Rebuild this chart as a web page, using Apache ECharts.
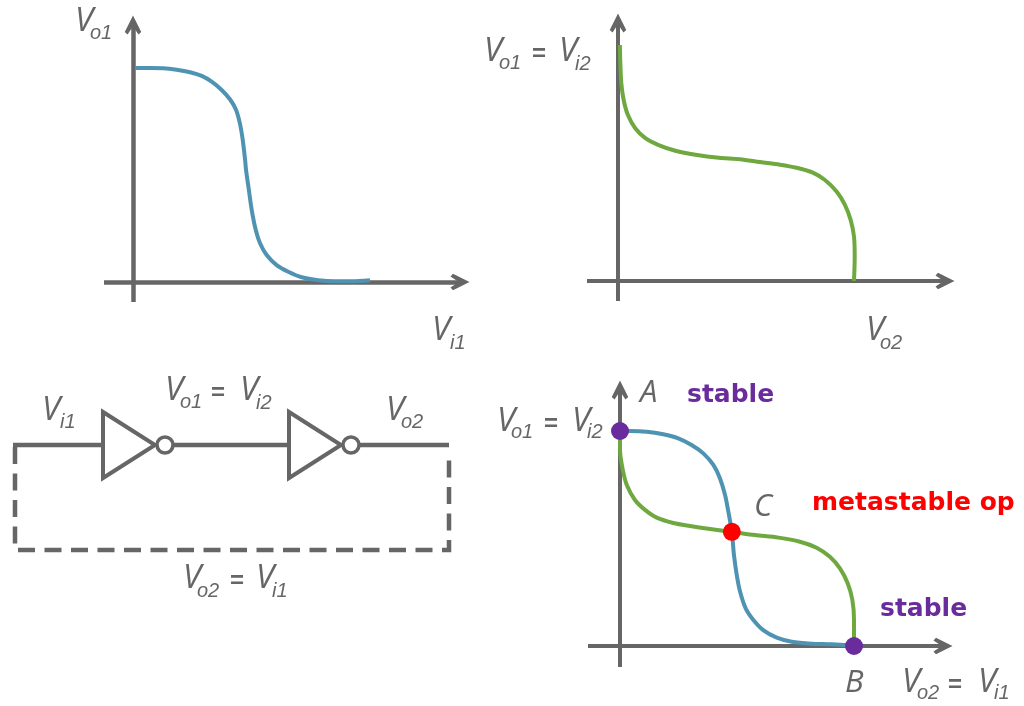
<!DOCTYPE html>
<html>
<head>
<meta charset="utf-8">
<style>html,body{margin:0;padding:0;background:#fff}#c{width:1024px;height:706px}</style>
<script src="https://cdn.jsdelivr.net/npm/echarts@6/dist/echarts.min.js"></script>
</head>
<body>
<div id="c"></div>
<script>
// Inverter 1 transfer curve (Vi1, Vo1), normalised to the supply
var inv1X = [0.008,0.072,0.128,0.184,0.241,0.290,0.332,0.374,0.409,0.435,0.451,0.463,0.473,0.477,0.487,0.501,0.518,0.536,0.564,0.606,0.655,0.712,0.782,0.852,0.923,1.0];
var inv1Y = [1.0,1.0,0.999,0.992,0.980,0.963,0.936,0.897,0.854,0.804,0.741,0.664,0.570,0.523,0.445,0.336,0.243,0.181,0.126,0.079,0.048,0.022,0.008,0.003,0.003,0.008];
// Inverter 2 transfer curve (Vo2, Vi2)
var inv2X = [0.008,0.010,0.014,0.024,0.042,0.073,0.116,0.172,0.243,0.328,0.427,0.517,0.602,0.686,0.757,0.821,0.877,0.927,0.962,0.986,1.0,1.003,1.0];
var inv2Y = [1.0,0.922,0.838,0.767,0.703,0.647,0.605,0.576,0.552,0.535,0.522,0.516,0.504,0.493,0.480,0.461,0.428,0.378,0.322,0.258,0.188,0.103,0.0];
// Butterfly plot curves
var butterBlueX = [0.0,0.043,0.114,0.185,0.249,0.306,0.356,0.399,0.427,0.449,0.463,0.478,0.487,0.499,0.513,0.537,0.570,0.612,0.670,0.734,0.819,0.905,1.0];
var butterBlueY = [1.0,1.0,0.997,0.985,0.966,0.935,0.896,0.842,0.780,0.702,0.625,0.531,0.423,0.330,0.253,0.175,0.121,0.074,0.039,0.020,0.011,0.008,0.0];
var butterGreenX = [0.0,0.0,0.012,0.029,0.064,0.107,0.157,0.228,0.299,0.385,0.478,0.577,0.677,0.769,0.840,0.897,0.940,0.973,0.993,1.0,1.0];
var butterGreenY = [1.0,0.912,0.819,0.749,0.679,0.633,0.597,0.572,0.558,0.544,0.531,0.516,0.504,0.485,0.457,0.415,0.361,0.292,0.214,0.121,0.0];
// Operating points
var stableX = [0, 1];
var stableY = [1, 0];
var metastableX = [0.478];
var metastableY = [0.531];

function zip(a, b) { return a.map(function (v, i) { return [v, b[i]]; }); }

var GREY = '#666666', BLUE = '#4f93b3', GREEN = '#6fa83f', PURPLE = '#6a2c9c', RED = '#ff0000', TXT = '#666666';
var ARROW = 'path://M0,10 L5,0 L10,10 L8.3,11.5 L5,6.5 L1.7,11.5 Z';
var VFONT = '"Open Sans"', SUBFONT = '"Liberation Sans"', BOLDFONT = '"DejaVu Sans"';

// Pixel frames of the three plots: axis extents, origin and one-unit lengths
var frames = [
  { l: 104, r: 460, t: 25, b: 302, ox: 133, oy: 282, ux: 237, uy: 214, w: 4.5 },
  { l: 587, r: 945, t: 23, b: 301, ox: 618, oy: 281, ux: 236, uy: 236, w: 4 },
  { l: 588, r: 943, t: 390, b: 667, ox: 620, oy: 646, ux: 234, uy: 215, w: 4 }
];

var grids = [], xAxes = [], yAxes = [];
frames.forEach(function (f, i) {
  grids.push({ left: f.l, top: f.t, width: f.r - f.l, height: f.b - f.t });
  var base = function () {
    return {
      type: 'value', gridIndex: i,
      axisLine: { show: true, onZero: true, symbol: ['none', ARROW], symbolSize: [17, 19],
        lineStyle: { color: GREY, width: f.w, cap: 'butt' } },
      axisTick: { show: false }, axisLabel: { show: false }, splitLine: { show: false }
    };
  };
  xAxes.push(Object.assign(base(), { min: (f.l - f.ox) / f.ux, max: (f.r - f.ox) / f.ux }));
  yAxes.push(Object.assign(base(), { min: (f.oy - f.b) / f.uy, max: (f.oy - f.t) / f.uy }));
});

function curve(g, x, y, color, z) {
  return { type: 'line', xAxisIndex: g, yAxisIndex: g, data: zip(x, y), smooth: 0.3, showSymbol: false,
    clip: false, z: z, silent: true, lineStyle: { color: color, width: 4, cap: 'butt', join: 'round' } };
}
function dots(g, x, y, color) {
  return { type: 'scatter', xAxisIndex: g, yAxisIndex: g, data: zip(x, y), symbolSize: 18, clip: false, z: 10,
    silent: true, itemStyle: { color: color, opacity: 1 } };
}

var graphics = [];
// y is the text baseline; top-aligned text puts it about 0.77 of the size below the anchor
function text(x, y, s, size, style, family, fill, align) {
  graphics.push({ type: 'text', x: x, y: y - 0.77 * size, silent: true, z: 20,
    style: { text: s, font: style + ' ' + size + 'px ' + family, fill: fill || TXT, align: align || 'left', verticalAlign: 'top' } });
}
function vsub(x, y, sub, dx, dy) {
  text(x, y, 'V', 33, 'italic', VFONT);
  text(x + (dx || 15), y + (dy || 8), sub, 20, 'italic', SUBFONT);
}
function eq(x, y) { text(x, y, '=', 24, 'bold', SUBFONT, TXT, 'center'); }
function point(x, y, s) { text(x, y, s, 31, 'italic', VFONT); }

// Plot captions
vsub(75, 31, 'o1');
vsub(432, 340, 'i1', 18, 9);
vsub(484, 61, 'o1');
eq(539, 61);
vsub(559, 61, 'i2', 16, 9);
vsub(866, 340, 'o2', 14, 9);
// Schematic captions
vsub(42, 420, 'i1', 18, 8);
vsub(165, 400, 'o1');
eq(218, 400);
vsub(240, 400, 'i2', 16, 9);
vsub(386, 420, 'o2');
vsub(183, 588, 'o2', 14, 9);
eq(237, 588);
vsub(256, 588, 'i1', 16, 9);
// Butterfly captions
vsub(497, 431, 'o1', 14, 7);
eq(551, 431);
vsub(572, 431, 'i2', 15, 7);
vsub(902, 692, 'o2', 15, 7);
eq(955, 692);
vsub(978, 692, 'i1', 16, 7);
point(640, 402, 'A');
point(754, 516, 'C');
point(845, 692, 'B');
text(687, 402, 'stable', 25, 'bold', BOLDFONT, PURPLE);
text(880, 616, 'stable', 25, 'bold', BOLDFONT, PURPLE);
text(812, 510, 'metastable op', 25, 'bold', BOLDFONT, RED);

// Schematic
function poly(points, dash) {
  graphics.push({ type: 'polyline', silent: true, shape: { points: points },
    style: { stroke: GREY, lineWidth: 4.5, fill: null, lineDash: dash || null, lineJoin: 'miter' } });
}
function inverter(x) {
  graphics.push({ type: 'polygon', silent: true, shape: { points: [[x, 412], [x, 478], [x + 52, 445]] },
    style: { stroke: GREY, lineWidth: 4, fill: '#fff', lineJoin: 'miter' } });
  graphics.push({ type: 'circle', silent: true, shape: { cx: x + 62, cy: 445, r: 8 },
    style: { stroke: GREY, lineWidth: 3.5, fill: '#fff' } });
}
poly([[13, 445], [102, 445]]);
poly([[174, 445], [287, 445]]);
poly([[359, 445], [449, 445]]);
inverter(103);
inverter(289);
poly([[15, 447], [15, 550], [449, 550], [449, 453]], [17, 9.5]);

var chart = echarts.init(document.getElementById('c'), null, { renderer: 'canvas', width: 1024, height: 706 });
chart.setOption({
  animation: false,
  backgroundColor: '#fff',
  grid: grids,
  xAxis: xAxes,
  yAxis: yAxes,
  series: [
    curve(0, inv1X, inv1Y, BLUE, 3),
    curve(1, inv2X, inv2Y, GREEN, 3),
    curve(2, butterBlueX, butterBlueY, BLUE, 3),
    curve(2, butterGreenX, butterGreenY, GREEN, 4),
    dots(2, stableX, stableY, PURPLE),
    dots(2, metastableX, metastableY, RED)
  ],
  graphic: graphics
});
</script>
</body>
</html>
